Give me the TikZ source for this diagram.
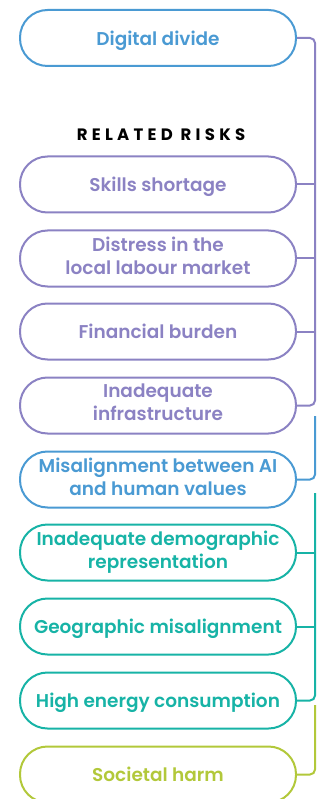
\documentclass[tikz,border=0pt]{standalone}
\usepackage{fontspec}
\setmainfont{Poppins}[BoldFont={Poppins SemiBold}]
\newfontfamily\headfont{Poppins}[UprightFont={Poppins Bold},LetterSpace=26]
\newcommand\topstrut{\rule{0pt}{20.5pt}}
\newcommand\botstrut{\rule[-6pt]{0pt}{6pt}}
\definecolor{cblue}{HTML}{4A9AD3}
\definecolor{cpurple}{HTML}{8B82C3}
\definecolor{cteal}{HTML}{17B3A6}
\definecolor{cgreen}{HTML}{B2C83A}
\tikzset{
  riskbox/.style={draw=#1, text=#1, line width=2pt, rounded corners=27.5pt,
    minimum width=276pt, minimum height=56pt, inner sep=0pt, align=center,
    font=\fontsize{18.5}{23}\selectfont\bfseries,
    execute at begin node=\topstrut, execute at end node=\botstrut},
  link/.style={draw=#1, line width=2pt, rounded corners=5pt},
}
\begin{document}
\begin{tikzpicture}[x=1pt,y=-1pt]
\useasboundingbox (0,0) rectangle (320,799);
\clip (0,0) rectangle (320,799);
\node[riskbox=cblue] (dd) at (158,38) {Digital divide};
\node[font=\fontsize{16.5}{18}\headfont, text=black] (rr) at (161,135) {RELATED RISKS};
\node[riskbox=cpurple] (sk) at (158,184.5) {Skills shortage};
\node[riskbox=cpurple] (ds) at (158,258.5) {Distress in the\\local labour market};
\node[riskbox=cpurple] (fb) at (158,331.5) {Financial burden};
\node[riskbox=cpurple] (ii) at (158,405.5) {Inadequate\\infrastructure};
\node[riskbox=cblue] (ma) at (158,479.5) {Misalignment between AI\\and human values};
\node[riskbox=cteal] (id) at (158,552.5) {Inadequate demographic\\representation};
\node[riskbox=cteal] (gm) at (158,626.5) {Geographic misalignment};
\node[riskbox=cteal] (he) at (158,700.5) {High energy consumption};
\node[riskbox=cgreen] (sh) at (158,774.5) {Societal harm};
% bus x position
\coordinate (bx) at (315,0);
\coordinate (bstart) at (315,416);
\coordinate (tstart) at (315,493);
\coordinate (gstart) at (315,705);
% purple bracket
\draw[link=cpurple] (dd.east) -- (dd.east -| bx) -- (ii.east -| bx) -- (ii.east);
\draw[link=cpurple] (sk.east) -- (sk.east -| bx);
\draw[link=cpurple] (ds.east) -- (ds.east -| bx);
\draw[link=cpurple] (fb.east) -- (fb.east -| bx);
% blue
\draw[link=cblue] (bstart) -- (ma.east -| bx) -- (ma.east);
% teal
\draw[link=cteal] (tstart) -- (he.east -| bx) -- (he.east);
\draw[link=cteal] (id.east) -- (id.east -| bx);
\draw[link=cteal] (gm.east) -- (gm.east -| bx);
% green
\draw[link=cgreen] (gstart) -- (sh.east -| bx) -- (sh.east);
\end{tikzpicture}
\end{document}
